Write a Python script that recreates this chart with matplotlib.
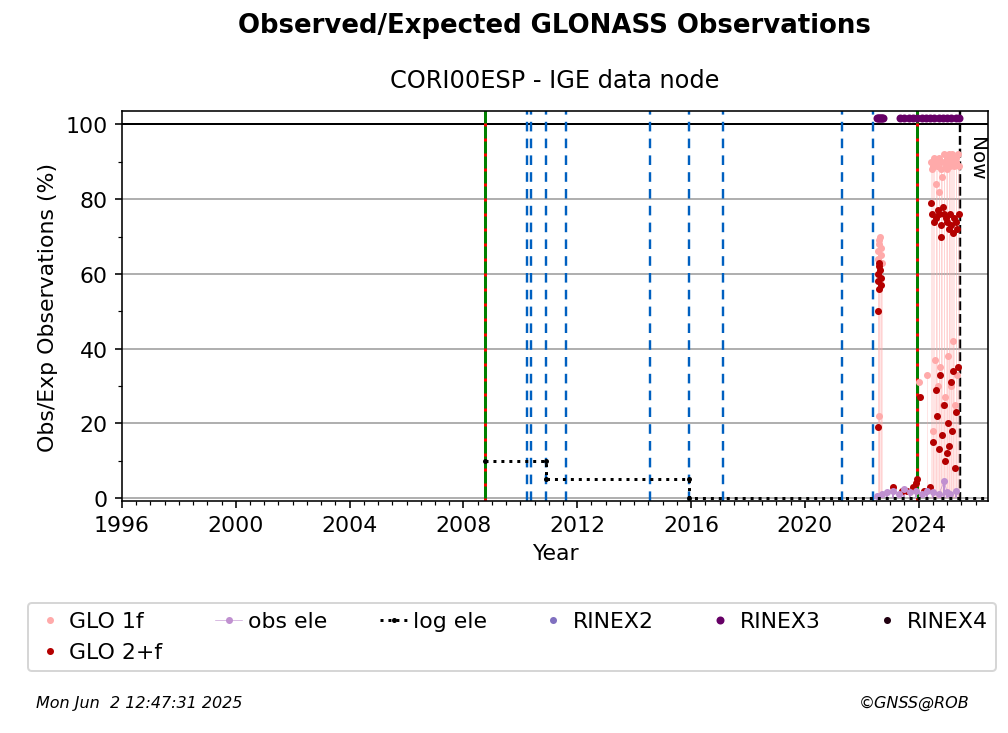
import matplotlib.pyplot as plt
from matplotlib.ticker import MultipleLocator

# --- data ---
glo1f_t = [2022.56, 2022.58, 2022.60, 2022.62, 2022.64, 2022.66, 2022.68, 2022.70, 2022.60,
           2024.02, 2024.30, 2024.45, 2024.48, 2024.50, 2024.52, 2024.55, 2024.58, 2024.60,
           2024.62, 2024.65, 2024.68, 2024.70, 2024.72, 2024.75, 2024.78, 2024.80, 2024.82,
           2024.85, 2024.88, 2024.90, 2024.92, 2024.95, 2024.98, 2025.00, 2025.02, 2025.05,
           2025.08, 2025.10, 2025.12, 2025.15, 2025.18, 2025.20, 2025.22, 2025.25, 2025.28,
           2025.30, 2025.32, 2025.35, 2025.38, 2025.40]
glo1f_v = [64, 66, 68, 69, 70, 67, 65, 63, 22,
           31, 33, 90, 88, 18, 89, 91, 37, 84, 90, 89, 30, 82, 91, 35, 90, 88, 86,
           25, 92, 90, 27, 89, 91, 88, 38, 92, 90, 89, 30, 91, 92, 42, 90, 89, 25,
           91, 90, 33, 92, 89]
glo2f_t = [2022.56, 2022.58, 2022.60, 2022.62, 2022.64, 2022.66, 2022.68, 2022.56, 2022.60,
           2022.58, 2023.10, 2023.40, 2023.60, 2023.80, 2023.90, 2023.95, 2024.05, 2024.20,
           2024.40, 2024.45, 2024.48, 2024.50, 2024.55, 2024.60, 2024.62, 2024.65, 2024.68,
           2024.70, 2024.72, 2024.75, 2024.78, 2024.80, 2024.82, 2024.85, 2024.88, 2024.90,
           2024.92, 2024.95, 2024.98, 2025.00, 2025.02, 2025.05, 2025.08, 2025.10, 2025.12,
           2025.15, 2025.18, 2025.20, 2025.22, 2025.25, 2025.28, 2025.30, 2025.32, 2025.35,
           2025.38, 2025.40]
glo2f_v = [58, 60, 62, 63, 61, 59, 57, 50, 56,
           19, 3, 2, 2, 3, 4, 5, 27, 2,
           3, 79, 76, 15, 74, 29, 75, 22, 77, 13, 76, 33, 70, 73, 17, 78, 25, 76,
           10, 75, 12, 74, 20, 72, 14, 76, 31, 73, 18, 71, 34, 75, 8, 74, 23, 72,
           35, 76]
obsele_t = [2022.55, 2022.70, 2022.90, 2023.10, 2023.30, 2023.50, 2023.70, 2023.90,
            2024.10, 2024.30, 2024.50, 2024.70, 2024.90, 2025.00, 2025.10, 2025.30]
obsele_v = [0.5, 1.0, 1.5, 2.0, 1.0, 2.5, 1.5, 2.0, 1.0, 2.0, 1.5, 1.0, 4.5, 1.5, 1.0, 2.0]
rinex3_t = [2022.52, 2022.56, 2022.60, 2022.64, 2022.68, 2022.72, 2022.76,
            2023.35, 2023.50, 2023.65, 2023.80, 2023.95, 2024.10, 2024.25, 2024.40,
            2024.55, 2024.70, 2024.85, 2025.00, 2025.15, 2025.30, 2025.40]
rinex3_v = [101.8] * len(rinex3_t)
logele_t = [2008.75, 2010.89, 2010.89, 2015.94, 2015.94, 2026.6]
logele_v = [10, 10, 5, 5, 0, 0]
events_rx = [2008.75, 2023.93]
events_ant = [2010.22, 2010.38, 2010.89, 2011.60, 2014.55, 2015.94, 2017.14, 2021.29, 2022.41]
now = 2025.46

fig = plt.figure(figsize=(7.0, 5.097), dpi=144)
ax = fig.add_axes([0.121, 0.316, 0.859, 0.531])

ax.grid(axis="y", color="#b0b0b0", linewidth=1)
ax.set_axisbelow(True)
ax.axhline(100, color="black", linewidth=1)

for x in events_ant:
    ax.axvline(x, color="#0060c0", linestyle=(0, (4, 3)), linewidth=1.2)
for x in events_rx:
    ax.axvline(x, color="green", linewidth=1.5)
    ax.axvline(x, color="red", linestyle=(0, (1, 4)), linewidth=1.5)
ax.axvline(now, color="black", linestyle="--", linewidth=1.2)
ax.text(now + 0.25, 97, "Now", rotation=-90, va="top", ha="left", fontsize=10)

ax.vlines(glo1f_t, 0, glo1f_v, color="#ffaaaa", linewidth=0.3, alpha=0.5)
ax.plot(logele_t, logele_v, ":", color="black", marker=".", markersize=3,
        drawstyle="steps-post", label="log ele", zorder=4)
ax.plot(glo1f_t, glo1f_v, ".", color="#ffaaaa", markersize=5, label="GLO 1f", zorder=3)
ax.plot(glo2f_t, glo2f_v, ".", color="#b40000", markersize=5, label="GLO 2+f", zorder=3)
ax.vlines(obsele_t, 0, obsele_v, color="#c090d0", linewidth=1)
ax.plot(obsele_t, obsele_v, ".", color="#c090d0", markersize=5, linestyle="-",
        linewidth=0.3, label="obs ele", zorder=3)
ax.plot([], [], ".", color="#8070c0", markersize=5, label="RINEX2")
ax.plot(rinex3_t, rinex3_v, ".", color="#660066", markersize=6, label="RINEX3", clip_on=False)
ax.plot([], [], ".", color="#200010", markersize=5, label="RINEX4")

ax.set_xlim(1996, 2026.43)
ax.set_ylim(-0.8, 103.5)
ax.set_xticks(range(1996, 2025, 4))
ax.xaxis.set_minor_locator(MultipleLocator(0.5))
ax.yaxis.set_minor_locator(MultipleLocator(10))
ax.tick_params(labelsize=11)
ax.set_xlabel("Year", fontsize=11)
ax.set_ylabel("Obs/Exp Observations (%)", fontsize=11)

fig.text(0.55, 0.955, "Observed/Expected GLONASS Observations", ha="center",
         fontsize=13, fontweight="bold")
fig.text(0.55, 0.88, "CORI00ESP - IGE data node", ha="center", fontsize=12)

h, l = ax.get_legend_handles_labels()
order = ["GLO 1f", "GLO 2+f", "obs ele", "log ele", "RINEX2", "RINEX3", "RINEX4"]
hd = dict(zip(l, h))
fig.legend([hd[k] for k in order], order, loc="center", bbox_to_anchor=(0.508, 0.131),
           ncol=6, fontsize=11, handlelength=1.2, handletextpad=0.3, columnspacing=2.4)

fig.text(0.036, 0.035, "Mon Jun  2 12:47:31 2025", fontsize=8, style="italic")
fig.text(0.962, 0.035, "©GNSS@ROB", fontsize=8, style="italic", ha="right")

fig.savefig("out.png", dpi=144)
